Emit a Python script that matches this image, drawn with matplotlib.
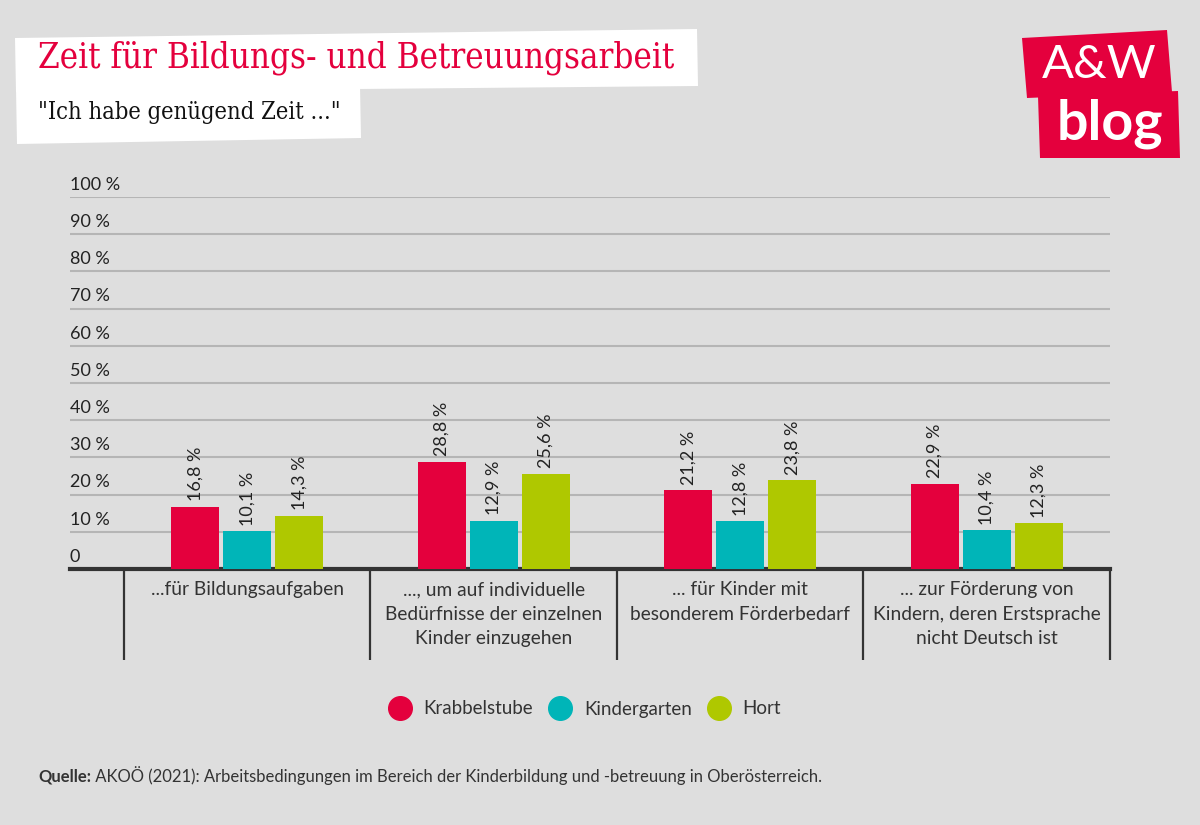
import matplotlib
matplotlib.use("Agg")
import matplotlib.pyplot as plt
import matplotlib.transforms as mtransforms
from matplotlib.patches import Polygon
from matplotlib.lines import Line2D
import numpy as np

# ---------------------------------------------------------------
# DATA
# ---------------------------------------------------------------
categories = [
    "...für Bildungsaufgaben",
    "..., um auf individuelle\nBedürfnisse der einzelnen\nKinder einzugehen",
    "... für Kinder mit\nbesonderem Förderbedarf",
    "... zur Förderung von\nKindern, deren Erstsprache\nnicht Deutsch ist",
]
series_names = ["Krabbelstube", "Kindergarten", "Hort"]
krabbelstube = [16.8, 28.8, 21.2, 22.9]
kindergarten = [10.1, 12.9, 12.8, 10.4]
hort = [14.3, 25.6, 23.8, 12.3]
y_ticks = [0, 10, 20, 30, 40, 50, 60, 70, 80, 90, 100]
y_tick_labels = ["0", "10 %", "20 %", "30 %", "40 %", "50 %",
                 "60 %", "70 %", "80 %", "90 %", "100 %"]

title = "Zeit für Bildungs- und Betreuungsarbeit"
subtitle = '"Ich habe genügend Zeit ..."'
source_bold = "Quelle:"
source_text = " AKOÖ (2021): Arbeitsbedingungen im Bereich der Kinderbildung und -betreuung in Oberösterreich."

# ---------------------------------------------------------------
# STYLE
# ---------------------------------------------------------------
BG = "#dedede"
RED = "#e4003d"
TEAL = "#00b5b8"
OLIVE = "#afc800"
TEXT = "#333333"
GRID = "#b5b5b5"
colors = [RED, TEAL, OLIVE]

SANS = ["Lato", "DejaVu Sans"]
plt.rcParams["font.family"] = SANS

W, H = 1200, 825
fig = plt.figure(figsize=(12, 8.25), dpi=100, facecolor=BG)


def fx(x):
    return x / W


def fy(y):
    return 1 - y / H


# axes: x from 70 to 1110 px, y from 569 (0 %) to 197 (100 %)
ax = fig.add_axes([fx(70), fy(569), fx(1110) - fx(70), fy(197) - fy(569)])
ax.set_facecolor(BG)
ax.set_xlim(-0.719, 3.5)
ax.set_ylim(0, 100)

x = np.arange(len(categories))
bar_w = 0.195
offset = 0.211
all_series = [krabbelstube, kindergarten, hort]

ax.set_yticks(y_ticks)
ax.yaxis.grid(True, color=GRID, linewidth=1.5)
ax.set_axisbelow(True)
ax.tick_params(left=False, bottom=False, labelleft=False, labelbottom=False)
for s in ["top", "right", "left"]:
    ax.spines[s].set_visible(False)
ax.spines["bottom"].set_color(TEXT)
ax.spines["bottom"].set_linewidth(3)
ax.set_xticks([])

for i, (vals, col) in enumerate(zip(all_series, colors)):
    xs = x + (i - 1) * offset
    ax.bar(xs, vals, width=bar_w, color=col, zorder=3)
    for xi, v in zip(xs, vals):
        ax.annotate(f"{v:.1f} %".replace(".", ","), (xi, v), xytext=(0, 4),
                    textcoords="offset points", rotation=90, ha="center",
                    va="bottom", fontsize=13, color="#222222")

# y labels above gridlines
ytrans = mtransforms.blended_transform_factory(ax.transAxes, ax.transData)
for v, lab in zip(y_ticks, y_tick_labels):
    ax.annotate(lab, (0, v), xycoords=ytrans, xytext=(0, 3),
                textcoords="offset points", ha="left", va="bottom",
                fontsize=13, color="#222222")

# category separators and labels below axis
xtrans = mtransforms.blended_transform_factory(ax.transData, ax.transAxes)
sep_x = np.arange(len(categories) + 1) - 0.5
ax.vlines(sep_x, 0, -91 / 372, transform=xtrans, color=TEXT,
          linewidth=1.6, clip_on=False)
for xi, lab in zip(x, categories):
    ax.text(xi, -0.032, lab, transform=xtrans, ha="center", va="top",
            fontsize=13.8, color=TEXT, linespacing=1.55)

# legend
handles = [Line2D([], [], marker="o", linestyle="", markersize=17,
                  markerfacecolor=c, markeredgecolor=c) for c in colors]
fig.legend(handles, series_names, loc="center", bbox_to_anchor=(fx(584), fy(709)),
           ncol=3, frameon=False, fontsize=13.5, labelcolor=TEXT,
           handletextpad=0.55, columnspacing=0.75, handlelength=1.4)

# ---------------------------------------------------------------
# HEADER
# ---------------------------------------------------------------
title_box = [(15, 38), (697, 29), (698, 86), (16, 92)]
sub_box = [(16, 88), (360, 86), (361, 138), (17, 144)]
for pts in (title_box, sub_box):
    fig.patches.append(Polygon([(fx(a), fy(b)) for a, b in pts], closed=True,
                               transform=fig.transFigure, facecolor="white",
                               edgecolor="none"))

fig.text(fx(38), fy(58), title, fontsize=25, color=RED,
         family=["DejaVu Serif"], fontstretch="condensed", va="center", ha="left")
fig.text(fx(38), fy(112), subtitle, fontsize=17, color="#111111",
         family=["DejaVu Serif"], fontstretch="condensed", va="center", ha="left")

# logo
logo1 = [(1022, 38), (1167, 30), (1172, 92), (1027, 98)]
logo2 = [(1038, 96), (1178, 91), (1180, 158), (1040, 158)]
for pts in (logo1, logo2):
    fig.patches.append(Polygon([(fx(a), fy(b)) for a, b in pts], closed=True,
                               transform=fig.transFigure, facecolor=RED,
                               edgecolor="none"))
fig.text(fx(1099), fy(65), "A&W", fontsize=34, color="white",
         family=["Lato", "DejaVu Sans"], va="center", ha="center")
fig.text(fx(1110), fy(124), "blog", fontsize=40, color="white", weight="bold",
         family=["Lato", "DejaVu Sans"], va="center", ha="center")

# source
t = fig.text(fx(38), fy(776), source_bold, fontsize=12, weight="bold",
             color=TEXT, va="center", ha="left")
fig.canvas.draw()
bb = t.get_window_extent()
fig.text(bb.x1 / W, fy(776), source_text, fontsize=12, color=TEXT,
         va="center", ha="left")

fig.savefig("out.png", dpi=100, facecolor=BG)
